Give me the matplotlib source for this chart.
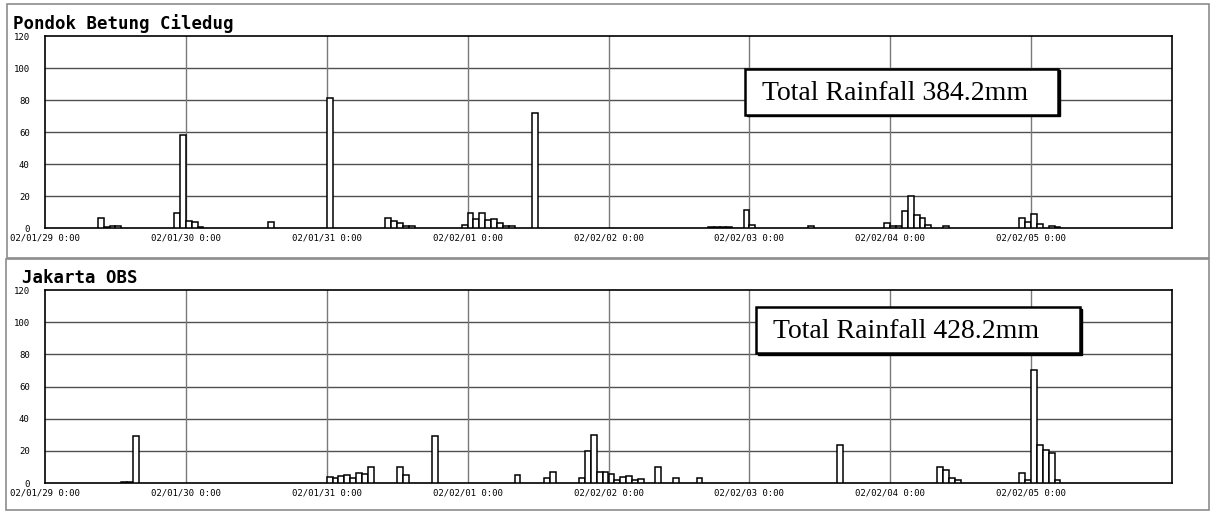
import matplotlib.pyplot as plt
from matplotlib.patches import Rectangle

# hours counted from 02/01/29 0:00, hourly rainfall (mm)
day_labels = ['02/01/29 0:00', '02/01/30 0:00', '02/01/31 0:00', '02/02/01 0:00',
              '02/02/02 0:00', '02/02/03 0:00', '02/02/04 0:00', '02/02/05 0:00']

pondok_hours = [9, 10, 11, 12, 22, 23, 24, 25, 26, 38, 48,
                58, 59, 60, 61, 62, 71, 72, 73, 74, 75, 76, 77, 78, 79, 83,
                113, 114, 115, 116, 119, 120, 130,
                143, 144, 145, 146, 147, 148, 149, 150, 153,
                166, 167, 168, 169, 171, 172]
pondok_rain = [6, 0.5, 1.5, 1, 9.5, 58, 4.5, 4, 0.8, 4, 81,
               6, 4.5, 3, 1.5, 1, 2, 9.4, 5.8, 9.6, 4.8, 5.8, 3, 1.5, 1, 72,
               0.7, 0.7, 0.7, 0.7, 11.5, 1.9, 1,
               2.9, 1, 1, 10.6, 20, 8.3, 6, 1.9, 1,
               6.5, 4, 8.5, 2.5, 1.2, 0.8]

jakarta_hours = [13, 14, 15, 48, 49, 50, 51, 52, 53, 54, 55, 60, 61, 66,
                 80, 85, 86, 91, 92, 93, 94, 95, 96, 97, 98, 99, 100, 101,
                 104, 107, 111, 135, 152, 153, 154, 155,
                 166, 167, 168, 169, 170, 171, 172]
jakarta_rain = [0.5, 0.5, 29, 4, 3, 4.5, 5, 3, 6, 5.5, 10, 10, 5, 29.5,
                4.8, 2.9, 6.9, 2.9, 19.6, 29.8, 6.9, 6.9, 5.8, 1.7, 3.7, 4.4, 2.1, 2.3,
                10, 2.9, 3.3, 23.5, 10, 7.9, 3.3, 2.1,
                6, 2.1, 70, 23.7, 20.6, 18.5, 2.1]

stations = ['Pondok Betung Ciledug', 'Jakarta OBS']
totals = ['Total Rainfall 384.2mm', 'Total Rainfall 428.2mm']

fig = plt.figure(figsize=(12.1, 5.11), dpi=100)
W, H = 1210, 511

# panel frames (pixels: left, top, right, bottom)
for l, t, r, b in [(7, 4, 1209, 258), (6, 259, 1209, 510)]:
    fig.patches.append(Rectangle((l / W, 1 - b / H), (r - l) / W, (b - t) / H,
                                 transform=fig.transFigure, fill=False,
                                 edgecolor='#8c8c8c', linewidth=1.2))

axes_px = [(45, 36, 1172, 228), (45, 290, 1172, 483)]
title_px = [(13, 24), (22, 278)]
box_px = [(745, 69, 1058, 115), (756, 307, 1080, 353)]
data = [(pondok_hours, pondok_rain), (jakarta_hours, jakarta_rain)]

for i in range(2):
    l, t, r, b = axes_px[i]
    ax = fig.add_axes([l / W, 1 - b / H, (r - l) / W, (b - t) / H])
    hours, rain = data[i]
    ax.bar(hours, rain, width=1, align='edge', facecolor='white',
           edgecolor='black', linewidth=1.1, zorder=3)
    ax.set_xlim(0, 192)
    ax.set_ylim(0, 120)
    ax.set_xticks(range(0, 192, 24))
    ax.set_xticklabels(day_labels, family='DejaVu Sans Mono', fontsize=6.5)
    ax.set_yticks(range(0, 121, 20))
    ax.set_yticklabels([str(v) for v in range(0, 121, 20)],
                       family='DejaVu Sans Mono', fontsize=6.5)
    ax.tick_params(length=0, pad=4)
    ax.tick_params(axis='y', pad=11)
    for v in range(20, 120, 20):
        ax.axhline(v, color='#505050', linewidth=1, zorder=1)
    for h in range(24, 192, 24):
        ax.axvline(h, color='#7a7a7a', linewidth=1, zorder=1)
    for s in ax.spines.values():
        s.set_linewidth(1.2)
        s.set_color('black')

    tx, ty = title_px[i]
    fig.text(tx / W, 1 - ty / H, stations[i], family='DejaVu Sans Mono',
             fontweight='bold', fontsize=12.5, va='center', ha='left')

    bl, bt, br, bb = box_px[i]
    # shadow + box
    fig.patches.append(Rectangle(((bl + 1.5) / W, 1 - (bb + 1.5) / H), (br - bl) / W,
                                 (bb - bt) / H, transform=fig.transFigure,
                                 facecolor='black', edgecolor='black', zorder=5))
    fig.patches.append(Rectangle((bl / W, 1 - bb / H), (br - bl) / W, (bb - bt) / H,
                                 transform=fig.transFigure, facecolor='white',
                                 edgecolor='black', linewidth=1.8, zorder=6))
    fig.text((bl + 17) / W, 1 - ((bt + bb) / 2 + 1) / H, totals[i],
             family='Liberation Serif', fontsize=20, va='center', ha='left',
             zorder=7)

fig.savefig('out.png', dpi=100)
